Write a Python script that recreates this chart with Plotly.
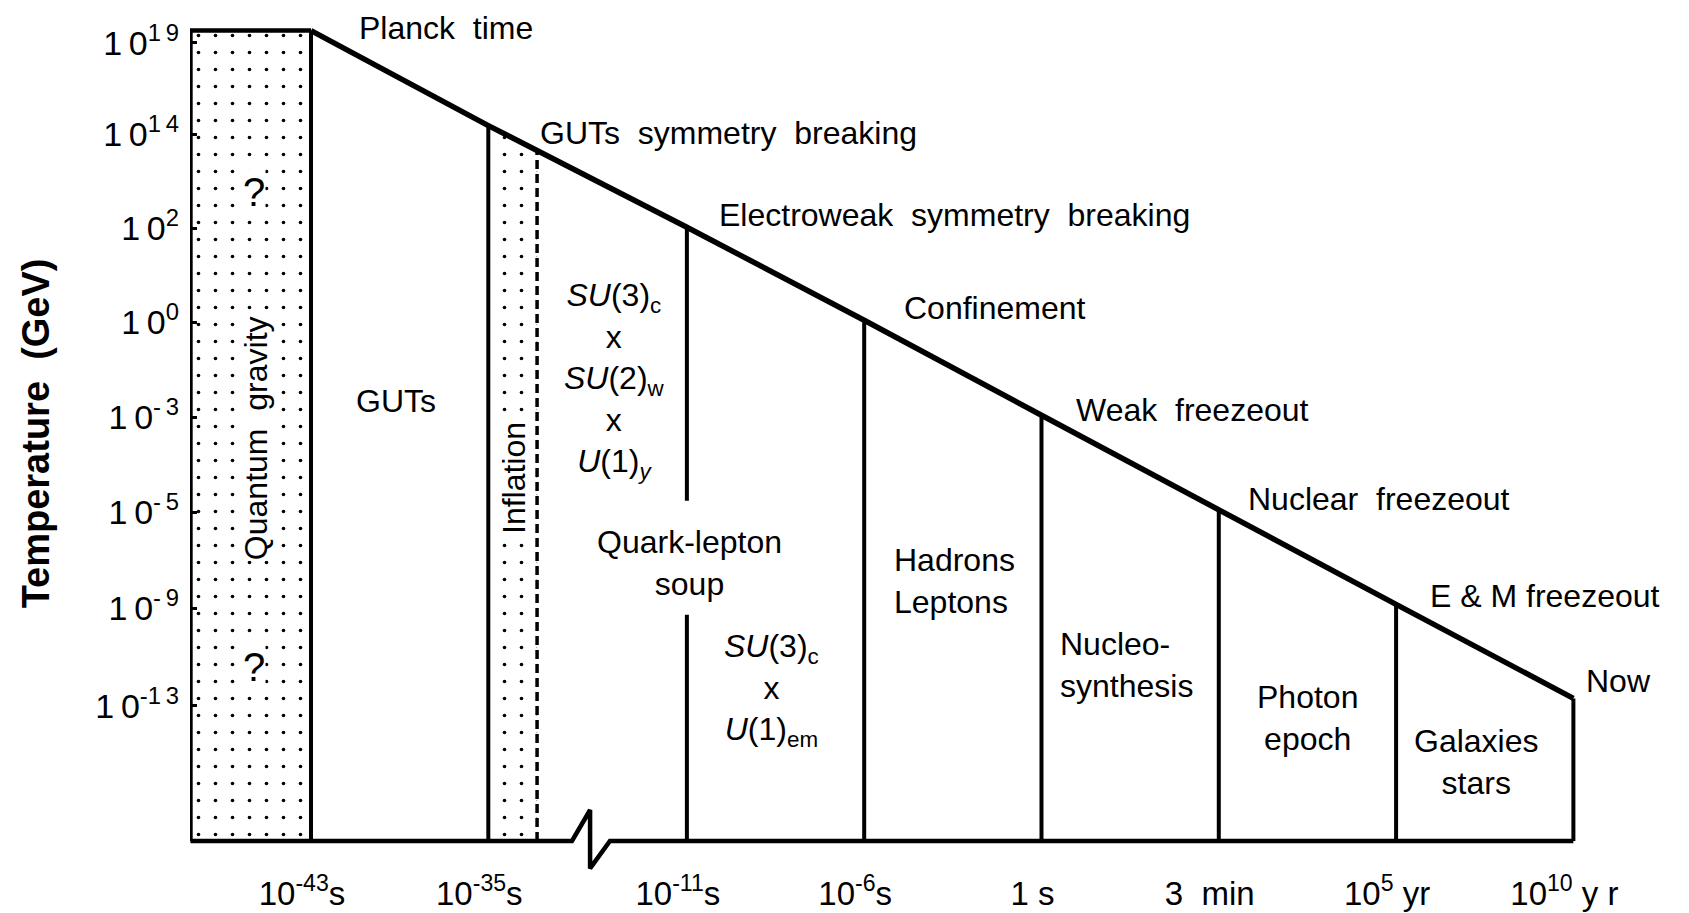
import numpy as np
import plotly.graph_objects as go

# ---------------- data ----------------
# epoch boundaries along the cooling history of the universe
event_names = ["Planck  time", "GUTs  symmetry  breaking", "Electroweak  symmetry  breaking",
               "Confinement", "Weak  freezeout", "Nuclear  freezeout", "E & M freezeout", "Now"]
time_labels = ["10<sup>-43</sup>s", "10<sup>-35</sup>s", "10<sup>-11</sup>s", "10<sup>-6</sup>s",
               "1 s", "3  min", "10<sup>5</sup> yr", "10<sup>10</sup> y r"]
# schematic position of each boundary on the (broken) log-time axis
time_pos = [0.0, 1.0, 2.12, 3.12, 4.12, 5.12, 6.12, 7.12]
# schematic position of the temperature reached at each boundary (log-T axis)
temp_pos = [7.11, 6.11, 5.04, 4.06, 3.06, 2.06, 1.07, 0.08]

temp_tick_labels = ["1\u20090<sup>1\u20099</sup>", "1\u20090<sup>1\u20094</sup>", "1\u20090<sup>2</sup>",
                    "1\u20090<sup>0</sup>", "1\u20090<sup>-\u20093</sup>", "1\u20090<sup>-\u20095</sup>",
                    "1\u20090<sup>-\u20099</sup>", "1\u20090<sup>-1\u20093</sup>"]
temp_tick_pos = [6.98, 6.02, 5.03, 4.04, 3.04, 2.04, 1.03, 0.0]

# era names written inside the diagram
era_texts = ["?", "?", "Quantum  gravity", "GUTs", "Inflation",
             "<i>SU</i>(3)<sub>c</sub><br>x<br><i>SU</i>(2)<sub>w</sub><br>x<br><i>U</i>(1)<sub><i>y</i></sub>",
             "Quark-lepton<br>soup",
             "<i>SU</i>(3)<sub>c</sub><br>x<br><i>U</i>(1)<sub>em</sub>",
             "Hadrons<br>Leptons", "Nucleo-<br>synthesis", "Photon<br>epoch", "Galaxies<br>stars"]

# ---------------- layout / geometry constants ----------------
T_START = -0.68          # left edge of the diagram (t = 0)
INFLATION_END = 1.275    # dashed line ending the inflation band
BREAK_X = (1.472, 1.574, 1.686)   # axis break zig-zag
BREAK_UP, BREAK_DN = 0.325, -0.29
FLOOR = -1.42            # level of the time axis
EW_GAP = (2.16, 0.96)    # gap in the electroweak line for the "soup" label
X_RANGE = [-0.6825, 7.7213]
Y_RANGE = [-1.737, 7.3263]

era_x = [-0.32, -0.32, -0.31, 0.479, 1.145, 1.709, 2.137, 2.60, 3.283, 4.219, 5.623, 6.576]
era_y = [5.41, 0.41, 2.82, 3.21, 2.40, 3.43, 1.51, 0.17, 1.32, 0.43, -0.13, -0.59]
era_angle = [0, 0, -90, 0, -90, 0, 0, 0, 0, 0, 0, 0]
era_anchor = ["center"] * 8 + ["left", "left", "center", "center"]
era_size = [40, 40, 32, 32, 32, 32, 32, 32, 32, 32, 32, 32]
era_bg = ["white", "white", "white", "rgba(0,0,0,0)", "white"] + ["rgba(0,0,0,0)"] * 7

label_dx = [46, 50, 30, 38, 33, 27, 32, 11]
label_dy = [3, -7, 12, 12, 5, 11, 8, 17]

FONT = "Liberation Sans, Arial, Helvetica, sans-serif"
BLACK = "#000000"
dots = dict(shape=".", fgcolor=BLACK, bgcolor="white", size=17, solidity=0.035)

fig = go.Figure()

# dotted bands: quantum gravity era and inflation
fig.add_trace(go.Scatter(
    x=[T_START, T_START, time_pos[0], time_pos[0]],
    y=[FLOOR, temp_pos[0], temp_pos[0], FLOOR],
    fill="toself", fillcolor="white", fillpattern=dots, mode="none", hoverinfo="skip"))
infl_top = float(np.interp(INFLATION_END, time_pos, temp_pos))
fig.add_trace(go.Scatter(
    x=[time_pos[1], time_pos[1], INFLATION_END, INFLATION_END],
    y=[FLOOR, temp_pos[1], infl_top, FLOOR],
    fill="toself", fillcolor="white", fillpattern=dots, mode="none", hoverinfo="skip"))

# time axis with a break
fig.add_trace(go.Scatter(
    x=[T_START, BREAK_X[0], BREAK_X[1], BREAK_X[1], BREAK_X[2], time_pos[-1]],
    y=[FLOOR, FLOOR, FLOOR + BREAK_UP, FLOOR + BREAK_DN, FLOOR, FLOOR],
    mode="lines", line=dict(color=BLACK, width=4.5), hoverinfo="skip"))

# quantum-gravity box (left and top edges)
fig.add_trace(go.Scatter(
    x=[T_START, T_START, time_pos[0]], y=[FLOOR, temp_pos[0], temp_pos[0]],
    mode="lines", line=dict(color=BLACK, width=4.5), hoverinfo="skip"))

# vertical epoch boundaries
vx, vy = [], []
for i, (t, T) in enumerate(zip(time_pos, temp_pos)):
    if i == 2:
        vx += [t, t, None, t, t, None]
        vy += [T, EW_GAP[0], None, EW_GAP[1], FLOOR, None]
    else:
        vx += [t, t, None]
        vy += [FLOOR, T, None]
fig.add_trace(go.Scatter(x=vx, y=vy, mode="lines", line=dict(color=BLACK, width=4),
                         hoverinfo="skip"))

# end of inflation (dashed)
fig.add_trace(go.Scatter(
    x=[INFLATION_END, INFLATION_END], y=[FLOOR, infl_top], mode="lines",
    line=dict(color=BLACK, width=3.5, dash="9px,5px"), hoverinfo="skip"))

# cooling line T(t)
fig.add_trace(go.Scatter(x=time_pos, y=temp_pos, mode="lines",
                         line=dict(color=BLACK, width=5.5), hoverinfo="skip"))

# event labels
for name, t, T, dx, dy in zip(event_names, time_pos, temp_pos, label_dx, label_dy):
    fig.add_annotation(x=t, y=T, text=name, xanchor="left", yanchor="middle",
                       xshift=dx, yshift=dy, showarrow=False,
                       font=dict(size=32, color=BLACK, family=FONT))

# era labels
for txt, x, y, ang, anc, sz, bg in zip(era_texts, era_x, era_y, era_angle, era_anchor,
                                       era_size, era_bg):
    fig.add_annotation(x=x, y=y, text=txt, textangle=ang, xanchor=anc, yanchor="middle",
                       align="left" if anc == "left" else "center", showarrow=False,
                       bgcolor=bg, borderpad=0,
                       font=dict(size=sz, color=BLACK, family=FONT))

# y-axis title
fig.add_annotation(x=0, xref="paper", y=2.87, yref="y", xshift=-154,
                   text="Temperature  (GeV)", textangle=-90, showarrow=False,
                   xanchor="center", yanchor="middle",
                   font=dict(size=38, color=BLACK, family=FONT, weight="bold"))

fig.update_layout(
    template="none", width=1689, height=913,
    margin=dict(l=190, r=9, t=10, b=42),
    paper_bgcolor="white", plot_bgcolor="white", showlegend=False,
    font=dict(family=FONT, color=BLACK, size=32),
)
fig.update_xaxes(range=X_RANGE, tickvals=time_pos, ticktext=time_labels,
                 showgrid=False, zeroline=False, showline=False, ticks="",
                 tickfont=dict(size=33, color=BLACK, family=FONT),
                 ticklabelshift=-9, ticklabelstandoff=0, automargin=False, fixedrange=True)
fig.update_yaxes(range=Y_RANGE, tickvals=temp_tick_pos, ticktext=temp_tick_labels,
                 showgrid=False, zeroline=False, showline=False,
                 ticks="inside", ticklen=7, tickwidth=3, tickcolor=BLACK,
                 tickfont=dict(size=34, color=BLACK, family=FONT),
                 ticklabelstandoff=10, automargin=False, fixedrange=True)

fig.write_html("out.html", config={"displayModeBar": False},
               post_script="document.body.style.margin='0';")
